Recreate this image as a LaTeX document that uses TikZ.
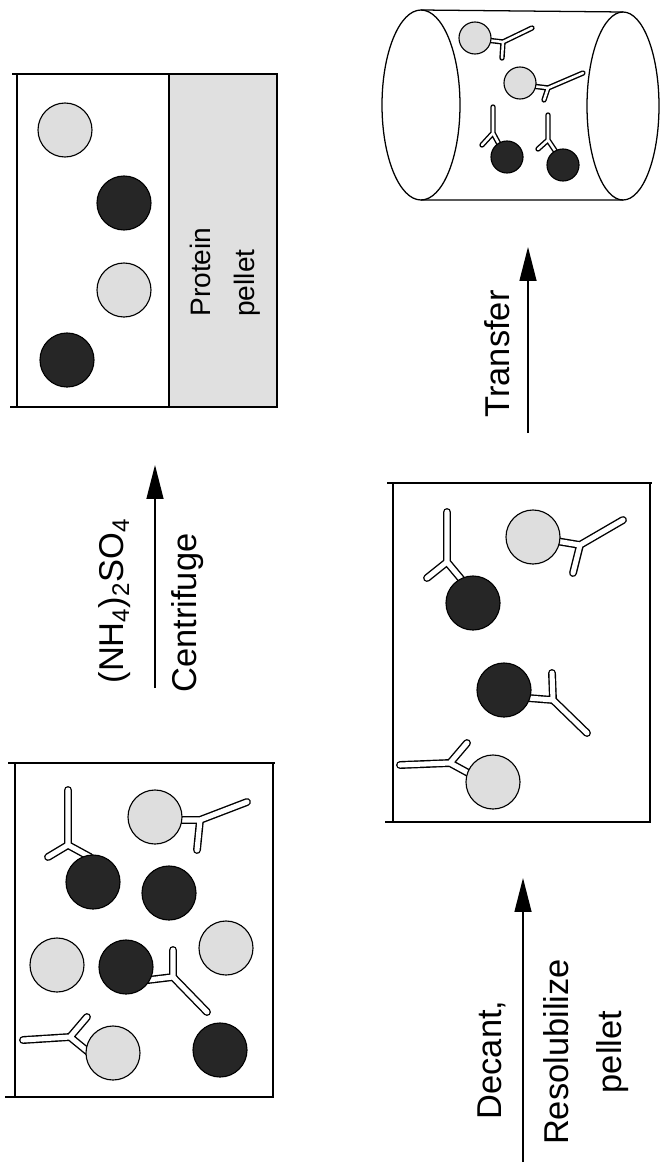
\documentclass[tikz,border=0pt]{standalone}
\usepackage{fontspec}
\setmainfont{Liberation Sans}
\usetikzlibrary{arrows.meta}
\newcommand{\antibody}[5][5.6pt]{%
  \draw[line width=#1,line cap=round,line join=round] (#3) -- (#2) -- (#4) (#2) -- (#5);
  \draw[white,line width=#1-2pt,line cap=round,line join=round] (#3) -- (#2) -- (#4) (#2) -- (#5);}

\begin{document}
\begin{tikzpicture}[x=0.025cm,y=-0.025cm,>={Triangle[length=24pt,width=12pt]},
    lbl/.style={rotate=90,inner sep=0pt,font=\fontsize{24.5}{37.7}\selectfont},
    lightp/.style={circle,draw,line width=0.8pt,fill=black!13,minimum size=1.35cm,inner sep=0pt},
    darkp/.style={circle,draw,line width=0.8pt,fill=black!85,minimum size=1.35cm,inner sep=0pt},
    small/.style={minimum size=0.8cm},
    rim/.style={line width=2pt},
    wall/.style={line width=0.8pt}]
  \useasboundingbox (0,0) rectangle (660,1164);

  % crude extract
  \draw[rim] (8,763) -- (275,763);
  \draw[rim] (5,1097) -- (274,1097);
  \draw[wall] (15,763) -- (15,1097);
  \draw[rim] (273,763) -- (273,1097);
  \antibody{68,845}{68,790}{48,857}{90,857}
  \antibody{200,820}{247,802}{178,820}{197,850}
  \antibody{173,977}{207,1012}{173,950}{148,980}
  \antibody{70,1037}{23,1040}{87,1017}{92,1055}
  \node[lightp] (a1) at (155,817) {};
  \node[darkp] (a2) at (93,882) {};
  \node[darkp] (a3) at (169,893) {};
  \node[lightp] (a4) at (226,948) {};
  \node[lightp] (a5) at (57,965) {};
  \node[darkp] (a6) at (126,967) {};
  \node[lightp] (a7) at (113,1053) {};
  \node[darkp] (a8) at (220,1050) {};

  % salting out
  \coordinate (s0) at (155,688);
  \coordinate (s1) at (155,465);
  \draw[->,line width=1pt] (s0) -- (s1);
  \node[lbl] (salt) at (115,601) {(NH\textsubscript{4})\textsubscript{2}SO\textsubscript{4}};
  \node[lbl] (spin) at (188,613) {Centrifuge};

  % supernatant over pellet
  \fill[black!12] (169,74) rectangle (277,407);
  \draw[rim] (12,74) -- (278,74);
  \draw[rim] (10,407) -- (278,407);
  \draw[wall] (17,74) -- (17,407);
  \draw[wall] (169,74) -- (169,407);
  \draw[rim] (277,74) -- (277,407);
  \node[lightp] (b1) at (65,130) {};
  \node[darkp] (b2) at (124,203) {};
  \node[lightp] (b3) at (124,290) {};
  \node[darkp] (b4) at (67,360) {};
  \node[rotate=90,inner sep=0pt,align=left,anchor=west,
    font=\fontsize{20}{31}\selectfont] (pellet) at (225,317) {Protein\\pellet};

  % redissolved pellet
  \coordinate (r0) at (523,1162);
  \coordinate (r1) at (523,878);
  \draw[->,line width=1pt] (r0) -- (r1);
  \node[lbl] (decant) at (492,1060) {Decant,};
  \node[lbl,align=center] (resol) at (586,1052) {Resolubilize\\pellet};

  \draw[rim] (387,483) -- (652,483);
  \draw[rim] (385,822) -- (651,822);
  \draw[wall] (393,483) -- (393,822);
  \draw[rim] (650,483) -- (650,822);
  \antibody{447,562}{447,512}{427,578}{462,580}
  \antibody{580,545}{623,520}{556,541}{573,573}
  \antibody{553,700}{587,733}{552,673}{528,698}
  \antibody{450,763}{400,765}{467,743}{472,775}
  \node[darkp] (c1) at (473,603) {};
  \node[lightp] (c2) at (533,537) {};
  \node[darkp] (c3) at (504,690) {};
  \node[lightp] (c4) at (493,782) {};

  % tube
  \coordinate (t0) at (528,433);
  \coordinate (t1) at (528,247);
  \draw[->,line width=1pt] (t0) -- (t1);
  \node[lbl] (move) at (497,354) {Transfer};

  \draw[line width=0.9pt] (421,10) -- (623,12) (421,200) -- (623,200);
  \draw[line width=0.9pt] (421,105) ellipse (39 and 95);
  \draw[line width=0.9pt] (623,106) ellipse (36 and 94);
  \antibody[3.8pt]{503,42}{532,28}{486,40}{502,58}
  \antibody[3.8pt]{548,88}{583,73}{532,86}{544,100}
  \antibody[3.8pt]{493,133}{493,107}{482,145}{500,146}
  \antibody[3.8pt]{548,140}{548,115}{538,149}{556,152}
  \node[lightp,small] (d1) at (475,38) {};
  \node[lightp,small] (d2) at (520,83) {};
  \node[darkp,small] (d3) at (507,157) {};
  \node[darkp,small] (d4) at (563,165) {};
\end{tikzpicture}
\end{document}
